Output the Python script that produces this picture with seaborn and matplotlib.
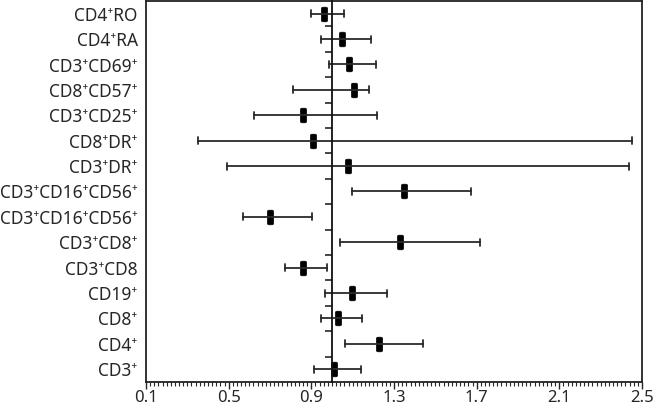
import numpy as np
import pandas as pd
import seaborn as sns
import matplotlib
matplotlib.use("Agg")
import matplotlib.pyplot as plt
from matplotlib.path import Path
from matplotlib.ticker import MultipleLocator, FixedLocator

# rows from top to bottom
labels = ["CD4⁺RO", "CD4⁺RA", "CD3⁺CD69⁺", "CD8⁺CD57⁺", "CD3⁺CD25⁺",
          "CD8⁺DR⁺", "CD3⁺DR⁺", "CD3⁺CD16⁺CD56⁺", "CD3⁺CD16⁺CD56⁺",
          "CD3⁺CD8⁺", "CD3⁺CD8", "CD19⁺", "CD8⁺", "CD4⁺", "CD3⁺"]
estimate = [0.963, 1.047, 1.083, 1.105, 0.858, 0.906, 1.079, 1.346, 0.700,
            1.327, 0.858, 1.097, 1.031, 1.225, 1.011]
lower = [0.900, 0.947, 0.985, 0.810, 0.624, 0.352, 0.494, 1.097, 0.567,
         1.040, 0.774, 0.966, 0.947, 1.063, 0.915]
upper = [1.058, 1.190, 1.215, 1.180, 1.217, 2.450, 2.437, 1.672, 0.902,
         1.716, 0.977, 1.267, 1.147, 1.440, 1.141]

rows = [f"r{i}" for i in range(len(labels))]
# lower / estimate / upper per row -> median gives the estimate, full range gives the CI
df = pd.DataFrame({
    "row": np.repeat(rows, 3),
    "value": np.ravel(np.column_stack([lower, estimate, upper])),
})

# rounded vertical bar marker
t = np.linspace(0, np.pi / 2, 6)
r, w, h = 0.1, 0.21, 0.5
pts = []
for cx, cy, a0 in [(w - r, h - r, 0), (-w + r, h - r, np.pi / 2),
                   (-w + r, -h + r, np.pi), (w - r, -h + r, 1.5 * np.pi)]:
    pts += [(cx + r * np.cos(a0 + tt), cy + r * np.sin(a0 + tt)) for tt in t]
pts.append(pts[0])
bar_marker = Path(pts, closed=True)

sns.set_style("ticks")
plt.rcParams["font.family"] = ["Noto Sans", "DejaVu Sans"]

fig = plt.figure(figsize=(6.53, 4.07), dpi=100)
ax = fig.add_axes([146 / 653, 1 - 382 / 407, 496 / 653, 381 / 407])

sns.pointplot(data=df, x="value", y="row", order=rows, orient="h",
              estimator="median", errorbar=("pi", 100), capsize=0.28,
              linestyle="none", marker=bar_marker, markersize=10.5,
              markeredgewidth=0.5, color="black",
              err_kws={"color": "#2b2b2b", "linewidth": 1.3}, ax=ax)

ax.set_xlim(0.1, 2.5)
ax.set_ylim(len(rows) - 0.5, -0.5)
ax.xaxis.set_minor_locator(MultipleLocator(0.02))
ticks = np.arange(0.1, 2.51, 0.4)
ax.set_xticks(ticks)
ax.set_xticklabels([f"{v:.1f}" for v in ticks])
ax.tick_params(axis="x", which="major", length=5, width=1, labelsize=12, pad=1)
ax.tick_params(axis="x", which="minor", length=3, width=0.8)
ax.set_yticks(range(len(rows)))
ax.set_yticklabels(labels)
ax.tick_params(axis="y", length=0, labelsize=12.5, pad=6)
ax.set_xlabel("")
ax.set_ylabel("")
for s in ax.spines.values():
    s.set_visible(True)
    s.set_linewidth(1.3)
    s.set_color("#222222")

# reference line at 1.0 with ticks between rows
ax2 = ax.twinx()
ax2.set_ylim(ax.get_ylim())
ax2.spines["right"].set_visible(False)
ax2.spines["top"].set_visible(False)
ax2.spines["bottom"].set_visible(False)
ax2.spines["left"].set_visible(True)
ax2.spines["left"].set_position(("data", 1.0))
ax2.spines["left"].set_linewidth(1.3)
ax2.spines["left"].set_color("#111111")
ax2.yaxis.set_ticks_position("left")
ax2.yaxis.set_major_locator(FixedLocator(np.arange(0.5, len(rows) - 1, 1.0)))
ax2.tick_params(axis="y", length=5, width=1.2, labelleft=False, labelright=False)
ax2.set_ylabel("")

fig.savefig("out.png", dpi=100)
